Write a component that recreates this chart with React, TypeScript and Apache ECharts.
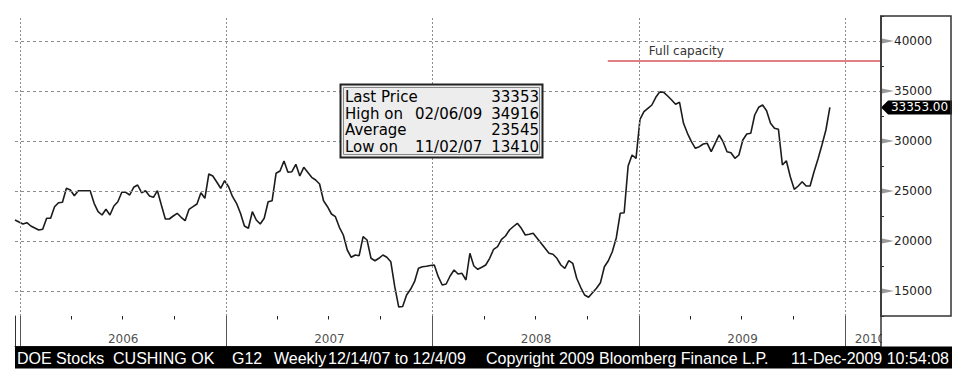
import React, { useEffect, useRef } from 'react';
import * as echarts from 'echarts';

// ---------- data ----------
// Weekly DOE crude stocks at Cushing OK (thousand barrels), one value per Friday,
// first value is the week of Friday 23-Dec-2005, last is 4-Dec-2009.
const firstWeek = [2005, 11, 23];
const stocks = [
  22100, 21900, 21700, 21830, 21500, 21300, 21100, 21170, 22270, 22270,
  23430, 23830, 23870, 25270, 25100, 24530, 25030, 25030, 25030, 25030,
  23770, 22930, 22600, 23170, 22600, 23500, 23930, 24870, 24870, 24600,
  25370, 25600, 24830, 25030, 24500, 24370, 25030, 23600, 22200, 22200,
  22500, 22770, 22370, 22030, 23170, 23430, 23700, 24830, 24270, 26700,
  26500, 25900, 25270, 26030, 25430, 24430, 23770, 22770, 21500, 21270,
  22930, 22100, 21700, 22270, 23930, 24030, 26770, 27000, 28000, 26870,
  26930, 27670, 26500, 27370, 26870, 26370, 26100, 25700, 24030, 23430,
  22700, 22430, 21370, 20600, 19100, 18370, 18600, 18530, 20430, 20100,
  18270, 18030, 18270, 18600, 18370, 17930, 15430, 13410, 13450, 14600,
  15170, 15930, 17270, 17430, 17480, 17550, 17600, 16430, 15600, 15700,
  16500, 17100, 16700, 16770, 16100, 18770, 17500, 17170, 17370, 17600,
  18270, 19170, 19430, 20170, 20500, 21100, 21450, 21770, 21270, 20600,
  20670, 20770, 20270, 19770, 19270, 18770, 18670, 18270, 17600, 17270,
  18030, 17770, 16270, 15370, 14600, 14370, 14830, 15270, 15830, 17430,
  18030, 18930, 20300, 22770, 22830, 27500, 28600, 28270, 32170, 32930,
  33270, 33600, 34370, 34916, 34870, 34500, 34100, 33670, 33870, 31770,
  30770, 29930, 29270, 29430, 29700, 29770, 28930, 29770, 30600, 29930,
  28930, 28830, 28270, 28600, 30100, 30700, 30770, 32600, 33370, 33600,
  33030, 31770, 31270, 31170, 27600, 28030, 26430, 25170, 25500, 25930,
  25500, 25500, 26930, 28200, 29600, 31100, 33353,
];

const yTicks = [15000, 20000, 25000, 30000, 35000, 40000];
const yMin = 12500;
const yMax = 42500;
const yStep = 2500;

const years = [2006, 2007, 2008, 2009, 2010];
const yearLabels = ['2006', '2007', '2008', '2009', '2010'];
const quarterMonths = [3, 6, 9];

const axisStart = [2005, 11, 23];
const axisEnd = [2010, 2, 4, 12];
const hiddenEnd = [2010, 2, 28];

const statLabels = ['Last Price', 'High on', 'Average', 'Low on'];
const statDates = ['', '02/06/09', '', '11/02/07'];
const statValues = [33353, 34916, 23545, 13410];
const lastPrice = 33353;

const fullCapacity = 38000;
const fullCapacityFrom = [2008, 10, 6];
const fullCapacityLabel = 'Full capacity';

const footerParts = [
  'DOE Stocks  CUSHING OK',
  'G12',
  'Weekly',
  '12/14/07 to 12/4/09',
  'Copyright 2009 Bloomberg Finance L.P.',
  '11-Dec-2009 10:54:08',
];

// ---------- helpers ----------
const ts = (a: number[]) => new Date(a[0], a[1], a[2], a[3] || 0).getTime();
const FONT = '"DejaVu Sans", Verdana, sans-serif';
const FOOT_FONT = '"Liberation Sans", Arial, sans-serif';

export default function App() {
  const ref = useRef<HTMLDivElement>(null);

  useEffect(() => {
    document.body.style.margin = '0';
    const chart = echarts.init(ref.current!, null, { renderer: 'svg' });

    const xMin = ts(axisStart);
    const xMax = ts(axisEnd);
    const lineData = stocks.map((v, i) => [
      new Date(firstWeek[0], firstWeek[1], firstWeek[2] + 7 * i).getTime(),
      v,
    ]);

    const yearStarts = years.map((y) => ts([y, 0, 1]));
    const yearMid = years.map((y, i) => {
      const s = yearStarts[i];
      const e = i < years.length - 1 ? ts([y + 1, 0, 1]) : ts(hiddenEnd);
      return (s + e) / 2;
    });

    const quarterTicks: any[] = [];
    years.forEach((y) => {
      quarterMonths.forEach((m) => {
        const t = ts([y, m, 1]);
        if (t < xMax) quarterTicks.push([{ coord: [t, 30] }, { coord: [t, 26.5] }]);
      });
    });

    const gridColor = '#8c8c8c';

    const option: any = {
      animation: false,
      backgroundColor: '#ffffff',
      grid: [
        { left: 15, right: 90, top: 16, height: 300 },
        { left: 15, right: 90, top: 316, height: 30 },
      ],
      xAxis: [
        { type: 'time', gridIndex: 0, min: xMin, max: xMax, show: false },
        {
          type: 'time',
          gridIndex: 1,
          min: xMin,
          max: xMax,
          position: 'top',
          axisLine: { show: true, lineStyle: { color: '#222', width: 1 } },
          axisTick: { show: false },
          axisLabel: { show: false },
          splitLine: { show: false },
        },
      ],
      yAxis: [
        {
          type: 'value',
          gridIndex: 0,
          position: 'right',
          min: yMin,
          max: yMax,
          interval: yStep,
          axisLine: { show: true, lineStyle: { color: '#333', width: 1.5 } },
          axisTick: { show: true, inside: false, length: 3, lineStyle: { color: '#333' } },
          axisLabel: {
            margin: 13,
            fontFamily: FONT,
            fontSize: 12,
            color: '#222',
            formatter: (v: number) => (yTicks.indexOf(v) >= 0 ? String(v) : ''),
          },
          splitLine: { show: false },
        },
        {
          type: 'value',
          gridIndex: 1,
          position: 'left',
          min: 0,
          max: 30,
          axisLine: { show: true, lineStyle: { color: '#333', width: 1 } },
          axisTick: { show: false },
          axisLabel: { show: false },
          splitLine: { show: false },
        },
        {
          type: 'value',
          gridIndex: 1,
          position: 'right',
          min: 0,
          max: 30,
          axisLine: { show: true, lineStyle: { color: '#333', width: 1.5 } },
          axisTick: { show: false },
          axisLabel: { show: false },
          splitLine: { show: false },
        },
      ],
      series: [
        {
          type: 'line',
          name: 'helper',
          xAxisIndex: 0,
          yAxisIndex: 0,
          data: [[xMax, lastPrice]],
          showSymbol: false,
          symbol: 'none',
          clip: false,
          lineStyle: { width: 0 },
          z: 1,
          silent: true,
          markLine: {
            silent: true,
            symbol: ['none', 'none'],
            label: { show: false },
            data: [
              ...yTicks.map((v) => ({
                yAxis: v,
                lineStyle: { color: gridColor, type: [3, 3], width: 1 },
              })),
              ...yearStarts.map((t) => ({
                xAxis: t,
                lineStyle: { color: gridColor, type: [2, 2], width: 1 },
              })),
              [
                {
                  coord: [ts(fullCapacityFrom), fullCapacity],
                  lineStyle: { color: '#d8545a', type: 'solid', width: 1.5 },
                  label: {
                    show: true,
                    position: 'insideStartTop',
                    formatter: fullCapacityLabel,
                    fontFamily: FONT,
                    fontSize: 12,
                    color: '#333',
                    distance: 4,
                    padding: [0, 0, 0, 37],
                  },
                },
                { coord: [xMax, fullCapacity] },
              ],
            ],
          },
          markPoint: {
            silent: true,
            data: [
              ...yTicks.map((v) => ({
                coord: [xMax, v],
                symbol: 'triangle',
                symbolSize: [5, 12],
                symbolRotate: -90,
                symbolOffset: [7, 0],
                itemStyle: { color: '#9a9a9a' },
                label: { show: false },
              })),
              {
                coord: [xMax, lastPrice],
                symbol: 'path://M0,7L7,0L70,0L70,14L7,14Z',
                symbolSize: [71, 14],
                symbolOffset: [35.5, 0],
                itemStyle: { color: '#000' },
                label: {
                  show: true,
                  position: 'inside',
                  formatter: lastPrice.toFixed(2),
                  color: '#fff',
                  fontFamily: FONT,
                  fontSize: 12,
                  offset: [3, 0],
                },
              },
            ],
          },
        },
        {
          type: 'line',
          name: 'DOE Stocks CUSHING OK',
          xAxisIndex: 0,
          yAxisIndex: 0,
          data: lineData,
          showSymbol: false,
          symbol: 'none',
          lineStyle: { color: '#1c1c1c', width: 1.6 },
          z: 3,
          silent: true,
        },
        {
          type: 'scatter',
          xAxisIndex: 1,
          yAxisIndex: 1,
          data: years.map((y, i) => [yearMid[i], 7, yearLabels[i]]),
          symbolSize: 1,
          itemStyle: { color: 'transparent' },
          silent: true,
          label: {
            show: true,
            position: 'inside',
            formatter: (p: any) => p.value[2],
            fontFamily: FONT,
            fontSize: 12,
            color: '#222',
          },
          markLine: {
            silent: true,
            symbol: ['none', 'none'],
            label: { show: false },
            data: [
              ...yearStarts.map((t) => ({
                xAxis: t,
                lineStyle: { color: '#555', type: 'solid', width: 1 },
              })),
              ...quarterTicks.map((q) => q.map((p: any) => ({ ...p, lineStyle: { color: '#222', type: 'solid', width: 1 } }))),
            ],
          },
        },
      ],
      graphic: [
        // right axis panel
        {
          type: 'rect',
          z: 60,
          shape: { x: 881, y: 16, width: 70, height: 300 },
          style: { fill: 'none', stroke: '#333', lineWidth: 1.5 },
          silent: true,
        },
        // cover below panel (clips the partial year label)
        {
          type: 'rect',
          z: 55,
          shape: { x: 882, y: 317, width: 80, height: 29 },
          style: { fill: '#fff' },
          silent: true,
        },
        // footer band
        {
          type: 'rect',
          z: 60,
          shape: { x: 15, y: 346.5, width: 937, height: 22 },
          style: { fill: '#000' },
          silent: true,
        },
        ...footerParts.map((t, i) => {
          const xs = [17, 232, 274, 328, 486, 949];
          return {
            type: 'text',
            z: 61,
            silent: true,
            style: {
              text: t,
              x: xs[i],
              y: 358,
              fill: '#fff',
              font: `16px ${FOOT_FONT}`,
              align: i === footerParts.length - 1 ? 'right' : 'left',
              verticalAlign: 'middle',
            },
          };
        }),
        // stats box
        {
          type: 'rect',
          z: 60,
          silent: true,
          shape: { x: 340.5, y: 84.5, width: 202, height: 73 },
          style: { fill: '#ededed', stroke: '#222', lineWidth: 2 },
        },
        {
          type: 'rect',
          z: 61,
          silent: true,
          shape: { x: 343.5, y: 87.5, width: 196, height: 67 },
          style: { fill: 'none', stroke: '#888', lineWidth: 1 },
        },
        ...statLabels.flatMap((lab, i) => {
          const y = 97 + i * 16.5;
          return [
            {
              type: 'text',
              z: 62,
              silent: true,
              style: { text: lab, x: 345, y, fill: '#000', font: `15px ${FONT}`, align: 'left', verticalAlign: 'middle' },
            },
            {
              type: 'text',
              z: 62,
              silent: true,
              style: { text: statDates[i], x: 415, y, fill: '#000', font: `15px ${FONT}`, align: 'left', verticalAlign: 'middle' },
            },
            {
              type: 'text',
              z: 62,
              silent: true,
              style: { text: String(statValues[i]), x: 539, y, fill: '#000', font: `15px ${FONT}`, align: 'right', verticalAlign: 'middle' },
            },
          ];
        }),
      ],
    };

    chart.setOption(option);
    return () => chart.dispose();
  }, []);

  return <div ref={ref} style={{ width: 971, height: 386, background: '#fff' }} />;
}
